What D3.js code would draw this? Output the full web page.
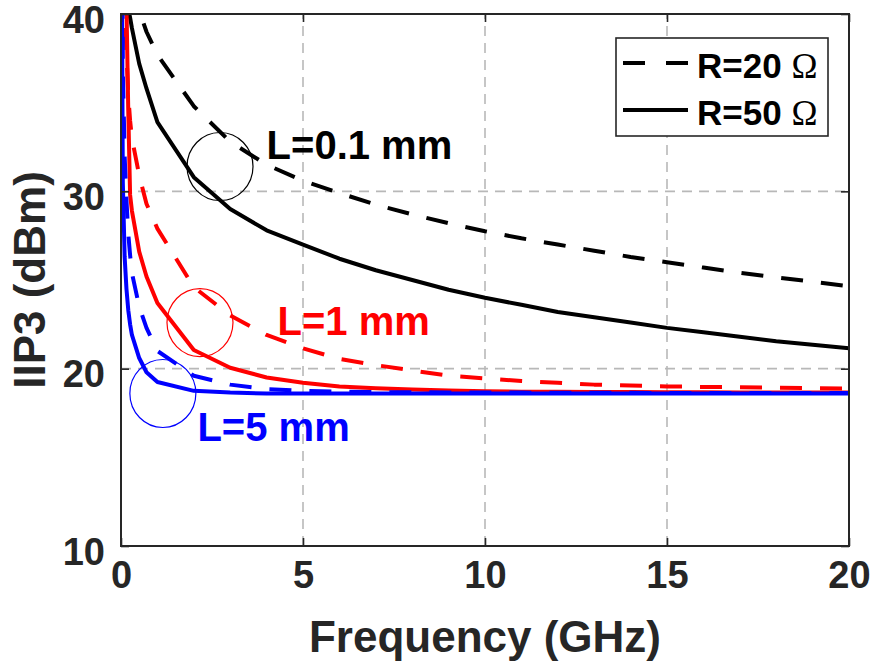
<!DOCTYPE html>
<html>
<head>
<meta charset="utf-8">
<script src="https://cdn.jsdelivr.net/npm/d3@7"></script>
<style>
  html, body { margin: 0; padding: 0; background: #ffffff; }
  svg { display: block; }
</style>
</head>
<body>
<div id="chart"></div>
<script>
// ---- data ----
const freqLow = [0.02, 0.05, 0.1, 0.15, 0.2, 0.25, 0.3, 0.5, 0.7];
const freqHigh = [1, 2, 3, 4, 5, 6, 7, 8, 9, 10, 11, 12, 13, 14, 15, 16, 17, 18, 19, 20];

// L=0.1 mm
const l01R20 = [80, 70, 60, 52, 47, 45, 43.5, 40.2, 39.0,
  37.7, 34.8, 32.8, 31.5, 30.6, 29.9, 29.25, 28.7, 28.2, 27.75, 27.35, 27.0, 26.65, 26.3, 26.0, 25.7, 25.4, 25.15, 24.9, 24.65];
const l01R50 = [70, 55, 45, 41.8, 40.3, 39.8, 39.2, 37.2, 35.8,
  33.9, 30.8, 29.0, 27.8, 27.0, 26.2, 25.55, 25.0, 24.45, 24.0, 23.6, 23.2, 22.9, 22.6, 22.3, 22.05, 21.8, 21.55, 21.35, 21.15];
// L=1 mm
const l1R20 = [55, 45, 40.5, 37.8, 35.4, 34.0, 33.0, 30.9, 29.3,
  27.9, 24.6, 23.0, 21.9, 21.15, 20.55, 20.2, 19.9, 19.6, 19.45, 19.3, 19.2, 19.1, 19.05, 19.0, 18.97, 18.95, 18.92, 18.9, 18.88];
const l1R50 = [80, 60, 46, 40.5, 34.5, 29.8, 28.9, 26.6, 25.2,
  23.7, 21.05, 20.05, 19.5, 19.2, 19.0, 18.9, 18.82, 18.77, 18.73, 18.7, 18.7, 18.68, 18.68, 18.67, 18.67, 18.66, 18.66, 18.65, 18.65];
// L=5 mm
const l5R20 = [50, 37, 32, 29.5, 27.6, 26.4, 25.4, 23.5, 22.3,
  21.0, 19.6, 19.1, 18.85, 18.75, 18.7, 18.68, 18.67, 18.66, 18.65, 18.65, 18.64, 18.64, 18.64, 18.63, 18.63, 18.63, 18.63, 18.63, 18.63];
const l5R50 = [44, 30.5, 26.3, 24.5, 23.3, 22.5, 21.9, 20.6, 19.8,
  19.25, 18.75, 18.65, 18.6, 18.6, 18.6, 18.6, 18.6, 18.6, 18.6, 18.6, 18.6, 18.6, 18.6, 18.6, 18.6, 18.6, 18.6, 18.6, 18.6];

const xTicks = [0, 5, 10, 15, 20];
const yTicks = [10, 20, 30, 40];

const series = [
  { values: l01R20, color: "#000000", dashed: true },
  { values: l01R50, color: "#000000", dashed: false },
  { values: l1R20, color: "#ff0000", dashed: true },
  { values: l1R50, color: "#ff0000", dashed: false },
  { values: l5R20, color: "#0000ff", dashed: true },
  { values: l5R50, color: "#0000ff", dashed: false }
];

// annotation circles (centre in data units) and labels
const marks = [
  { f: 2.72, v: 31.4, color: "#000000", label: "L=0.1 mm", lf: 4.0, lv: 31.8 },
  { f: 2.17, v: 22.6, color: "#ff0000", label: "L=1 mm", lf: 4.3, lv: 21.9 },
  { f: 1.15, v: 18.6, color: "#0000ff", label: "L=5 mm", lf: 2.1, lv: 15.9 }
];

const legendItems = [
  { name: "R=20 ", dashed: true },
  { name: "R=50 ", dashed: false }
];

// ---- layout ----
const W = 876, H = 670;
const margin = { top: 14, right: 27, bottom: 124, left: 121 };
const ink = "#262626";
const font = "'Liberation Sans', Arial, sans-serif";
const dash = "22,18";

const svg = d3.select("#chart").append("svg")
  .attr("width", W).attr("height", H);

const x = d3.scaleLinear().domain([0, 20]).range([margin.left, W - margin.right]);
const y = d3.scaleLinear().domain([10, 40]).range([H - margin.bottom, margin.top]);

const x0 = x.range()[0], x1 = x.range()[1];
const y0 = y.range()[0], y1 = y.range()[1];

svg.append("defs").append("clipPath").attr("id", "plotClip")
  .append("rect")
  .attr("x", x0).attr("y", y1)
  .attr("width", x1 - x0).attr("height", y0 - y1);

// grid
const grid = svg.append("g");
xTicks.slice(1, -1).forEach(t => {
  grid.append("line")
    .attr("x1", x(t)).attr("x2", x(t)).attr("y1", y0).attr("y2", y1)
    .attr("stroke", "#b8b8b8").attr("stroke-width", 1.6).attr("stroke-dasharray", "10,7");
});
yTicks.slice(1, -1).forEach(t => {
  grid.append("line")
    .attr("x1", x0).attr("x2", x1).attr("y1", y(t)).attr("y2", y(t))
    .attr("stroke", "#b8b8b8").attr("stroke-width", 1.6).attr("stroke-dasharray", "10,7");
});

// curves
const freqs = freqLow.concat(freqHigh);
const line = d3.line()
  .x((d, i) => x(freqs[i]))
  .y(d => y(d));

const plot = svg.append("g").attr("clip-path", "url(#plotClip)");
series.forEach(s => {
  plot.append("path")
    .attr("d", line(s.values))
    .attr("fill", "none")
    .attr("stroke", s.color)
    .attr("stroke-width", 4)
    .attr("stroke-linejoin", "round")
    .attr("stroke-dasharray", s.dashed ? dash : null);
});

// annotation circles + labels
marks.forEach(m => {
  svg.append("ellipse")
    .attr("cx", x(m.f)).attr("cy", y(m.v))
    .attr("rx", 33).attr("ry", 34)
    .attr("fill", "none")
    .attr("stroke", m.color)
    .attr("stroke-width", 1.2);
  svg.append("text")
    .attr("x", x(m.lf)).attr("y", y(m.lv))
    .attr("font-family", font)
    .attr("font-weight", "bold")
    .attr("font-size", 40)
    .attr("fill", m.color)
    .text(m.label);
});

// axes
const axisBottom = svg.append("g").attr("transform", `translate(0,${y0})`)
  .call(d3.axisBottom(x).tickValues(xTicks).tickSize(-8).tickPadding(16));
const axisTop = svg.append("g").attr("transform", `translate(0,${y1})`)
  .call(d3.axisTop(x).tickValues(xTicks).tickSize(-8).tickFormat(""));
const axisLeft = svg.append("g").attr("transform", `translate(${x0},0)`)
  .call(d3.axisLeft(y).tickValues(yTicks).tickSize(-8).tickPadding(16));
const axisRight = svg.append("g").attr("transform", `translate(${x1},0)`)
  .call(d3.axisRight(y).tickValues(yTicks).tickSize(-8).tickFormat(""));

[axisBottom, axisTop, axisLeft, axisRight].forEach(g => {
  g.select(".domain").remove();
  g.selectAll(".tick line").attr("stroke", ink).attr("stroke-width", 1.6);
  g.selectAll("text")
    .attr("font-family", font)
    .attr("font-weight", "bold")
    .attr("font-size", 38)
    .attr("fill", ink);
});
axisBottom.selectAll("text").attr("dy", null).attr("y", 42);
axisLeft.selectAll("text").attr("dy", null).attr("x", -16).attr("y", 18);

// box
svg.append("rect")
  .attr("x", x0).attr("y", y1)
  .attr("width", x1 - x0).attr("height", y0 - y1)
  .attr("fill", "none").attr("stroke", ink).attr("stroke-width", 2);

// axis titles
svg.append("text")
  .attr("x", (x0 + x1) / 2).attr("y", 652)
  .attr("text-anchor", "middle")
  .attr("font-family", font).attr("font-weight", "bold").attr("font-size", 44)
  .attr("fill", ink)
  .text("Frequency (GHz)");

svg.append("text")
  .attr("transform", `translate(45,${(y0 + y1) / 2}) rotate(-90)`)
  .attr("text-anchor", "middle")
  .attr("font-family", font).attr("font-weight", "bold").attr("font-size", 44)
  .attr("fill", ink)
  .text("IIP3 (dBm)");

// legend
const leg = svg.append("g");
leg.append("rect")
  .attr("x", 616).attr("y", 38).attr("width", 212).attr("height", 98)
  .attr("fill", "#ffffff").attr("stroke", ink).attr("stroke-width", 1.6);
legendItems.forEach((it, i) => {
  const cy = 63 + i * 47;
  leg.append("line")
    .attr("x1", 623).attr("x2", 688).attr("y1", cy).attr("y2", cy)
    .attr("stroke", "#000000").attr("stroke-width", 4)
    .attr("stroke-dasharray", it.dashed ? "22,21" : null);
  const t = leg.append("text")
    .attr("x", 697).attr("y", cy + 15)
    .attr("font-family", font).attr("font-weight", "bold").attr("font-size", 35)
    .attr("fill", "#000000");
  t.append("tspan").text(it.name);
  t.append("tspan")
    .attr("font-family", "'Liberation Serif', 'DejaVu Serif', serif")
    .attr("font-weight", "normal")
    .text("Ω");
});
</script>
</body>
</html>
